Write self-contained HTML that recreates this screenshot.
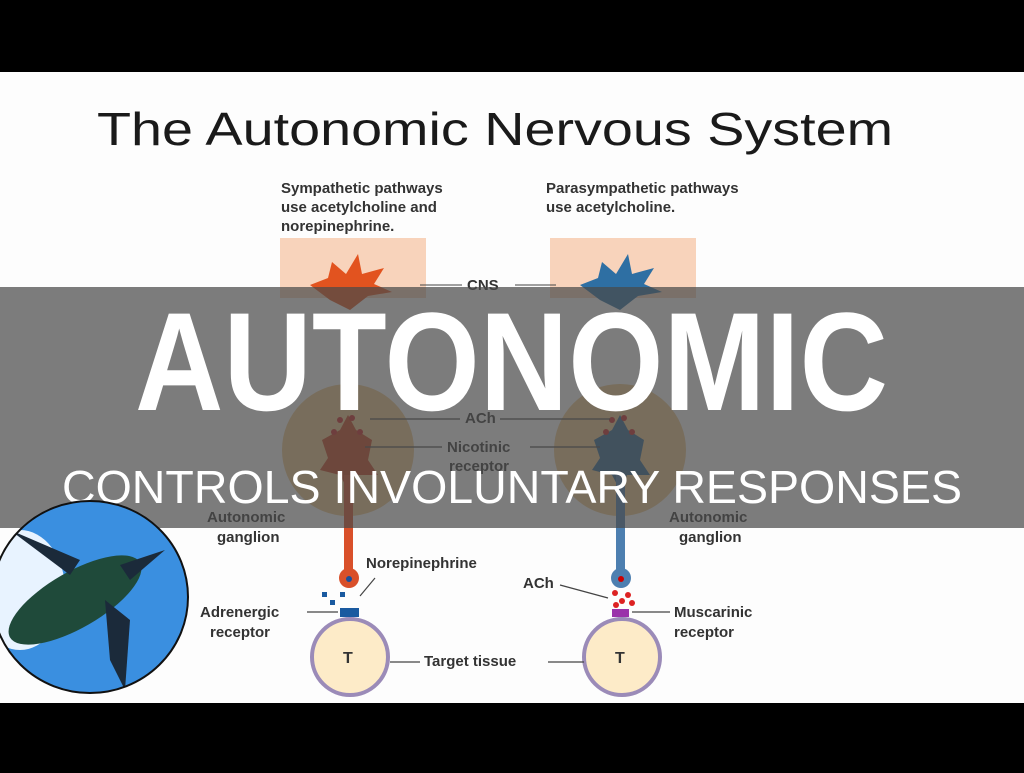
<!DOCTYPE html>
<html><head><style>
body{margin:0;width:1024px;height:768px;overflow:hidden;background:#000;font-family:"Liberation Sans",sans-serif}
</style></head><body>
<svg width="1024" height="768" viewBox="0 0 1024 768" xmlns="http://www.w3.org/2000/svg" font-family="Liberation Sans, sans-serif">
<rect x="0" y="72" width="1024" height="631" fill="#fdfdfd"/>
<text x="97" y="145" font-size="46" fill="#1a1a1a" textLength="796" lengthAdjust="spacingAndGlyphs">The Autonomic Nervous System</text>
<g font-size="15" font-weight="bold" fill="#333">
<text x="281" y="193">Sympathetic pathways</text>
<text x="281" y="212">use acetylcholine and</text>
<text x="281" y="231">norepinephrine.</text>
<text x="546" y="193">Parasympathetic pathways</text>
<text x="546" y="212">use acetylcholine.</text>
</g>
<rect x="280" y="238" width="146" height="60" fill="#f8d3bb"/>
<rect x="550" y="238" width="146" height="60" fill="#f8d3bb"/>
<line x1="420" y1="285" x2="462" y2="285" stroke="#444"/>
<line x1="515" y1="285" x2="556" y2="285" stroke="#444"/>
<text x="467" y="290" font-size="15" font-weight="bold" fill="#333">CNS</text>
<polygon points="310,285 328,278 332,262 346,274 358,254 362,274 384,268 374,284 392,292 368,296 350,310 330,300" fill="#e2531f"/>
<polygon points="580,285 598,278 602,262 616,274 628,254 632,274 654,268 644,284 662,292 638,296 620,310 600,300" fill="#2e6fa3"/>
<circle cx="348" cy="450" r="66" fill="#f0c98c"/>
<circle cx="620" cy="450" r="66" fill="#f0c98c"/>
<polygon points="322,440 340,430 348,415 356,430 372,440 368,460 378,475 355,475 348,490 340,475 320,470 328,458" fill="#c8401c"/>
<polygon points="594,440 612,430 620,415 628,430 644,440 640,460 650,475 627,475 620,490 612,475 592,470 600,458" fill="#2e6490"/>
<g fill="#c22"><circle cx="340" cy="420" r="3"/><circle cx="352" cy="418" r="3"/><circle cx="334" cy="432" r="3"/><circle cx="360" cy="432" r="3"/><circle cx="612" cy="420" r="3"/><circle cx="624" cy="418" r="3"/><circle cx="606" cy="432" r="3"/><circle cx="632" cy="432" r="3"/></g>
<rect x="344" y="475" width="9" height="100" fill="#d9502a"/>
<rect x="616" y="475" width="9" height="100" fill="#4d7fb0"/>
<circle cx="349" cy="578" r="10" fill="#d9502a"/>
<circle cx="349" cy="579" r="3" fill="#1a4f9a"/>
<circle cx="621" cy="578" r="10" fill="#4d7fb0"/>
<circle cx="621" cy="579" r="3" fill="#c00"/>
<g fill="#1a5aa0"><rect x="322" y="592" width="5" height="5"/><rect x="340" y="592" width="5" height="5"/><rect x="330" y="600" width="5" height="5"/></g>
<rect x="340" y="608" width="19" height="9" fill="#1a5aa0"/>
<g fill="#d22"><circle cx="615" cy="593" r="3"/><circle cx="628" cy="595" r="3"/><circle cx="622" cy="601" r="3"/><circle cx="632" cy="603" r="3"/><circle cx="616" cy="605" r="3"/></g>
<rect x="612" y="609" width="17" height="8" fill="#9a33aa"/>
<circle cx="350" cy="657" r="38" fill="#fdebc8" stroke="#9b8bb8" stroke-width="4"/>
<circle cx="622" cy="657" r="38" fill="#fdebc8" stroke="#9b8bb8" stroke-width="4"/>
<g font-size="15" font-weight="bold" fill="#333">
<text x="343" y="663" font-size="16">T</text><text x="615" y="663" font-size="16">T</text>
<text x="424" y="666">Target tissue</text>
<text x="366" y="568">Norepinephrine</text>
<text x="523" y="588">ACh</text>
<text x="200" y="617">Adrenergic</text><text x="210" y="637">receptor</text>
<text x="674" y="617">Muscarinic</text><text x="674" y="637">receptor</text>
<text x="207" y="522">Autonomic</text><text x="217" y="542">ganglion</text>
<text x="669" y="522">Autonomic</text><text x="679" y="542">ganglion</text>
<text x="465" y="423">ACh</text>
<text x="447" y="452">Nicotinic</text>
<text x="449" y="471">receptor</text>
</g>
<g stroke="#444" stroke-width="1.2">
<line x1="390" y1="662" x2="420" y2="662"/><line x1="548" y1="662" x2="584" y2="662"/>
<line x1="307" y1="612" x2="338" y2="612"/><line x1="632" y1="612" x2="670" y2="612"/>
<line x1="560" y1="585" x2="608" y2="598"/><line x1="360" y1="596" x2="375" y2="578"/>
<line x1="370" y1="419" x2="460" y2="419"/><line x1="500" y1="419" x2="610" y2="419"/>
<line x1="365" y1="447" x2="442" y2="447"/><line x1="530" y1="447" x2="600" y2="447"/>
</g>
<rect x="0" y="287" width="1024" height="241" fill="#4a4a4a" fill-opacity="0.72"/>
<text x="135" y="410" font-size="140" font-weight="bold" fill="#fff" textLength="753" lengthAdjust="spacingAndGlyphs">AUTONOMIC</text>
<text x="62" y="503" font-size="46" fill="#fff" textLength="900" lengthAdjust="spacingAndGlyphs">CONTROLS INVOLUNTARY RESPONSES</text>
<defs><clipPath id="c"><ellipse cx="90" cy="597" rx="98" ry="96"/></clipPath></defs>
<g clip-path="url(#c)">
<rect x="-10" y="490" width="210" height="210" fill="#3a8fe0"/>
<ellipse cx="20" cy="590" rx="45" ry="60" fill="#e8f3ff"/>
<ellipse cx="75" cy="600" rx="75" ry="28" fill="#1f4a3a" transform="rotate(-30 75 600)"/>
<polygon points="10,530 80,560 70,575" fill="#1b2a3a"/>
<polygon points="105,600 130,620 125,690 110,660" fill="#1b2a3a"/>
<polygon points="120,565 165,550 130,580" fill="#1b2a3a"/>
</g>
<ellipse cx="90" cy="597" rx="98" ry="96" fill="none" stroke="#111" stroke-width="2"/>
</svg>
</body></html>
